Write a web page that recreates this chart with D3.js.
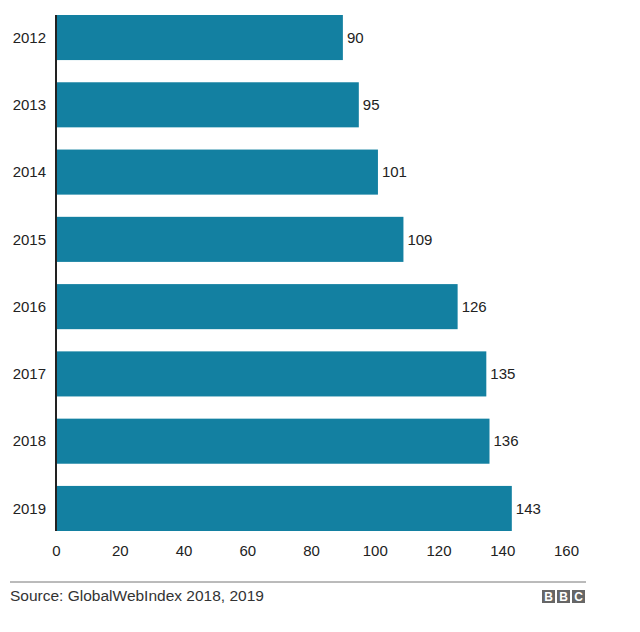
<!DOCTYPE html>
<html>
<head>
<meta charset="utf-8">
<script src="https://cdn.jsdelivr.net/npm/d3@7"></script>
<style>
  body { margin: 0; background: #fff; }
  text { font-family: "Liberation Sans", Arial, sans-serif; }
</style>
</head>
<body>
<script>
// data
let years = ["2012", "2013", "2014", "2015", "2016", "2017", "2018", "2019"]
let values = [90, 95, 101, 109, 126, 135, 136, 143]
let ticks = [0, 20, 40, 60, 80, 100, 120, 140, 160]
let source = "Source: GlobalWebIndex 2018, 2019"

let W = 640, H = 632
let mLeft = 56, mTop = 15, mBottom = 531

let svg = d3.select("body")
    .append("svg")
    .attr("width", W)
    .attr("height", H)

let x = d3.scaleLinear().domain([0, 160]).range([mLeft, 566])
let y = d3.scaleBand().domain(years).range([mTop, mBottom]).paddingInner(0.33).paddingOuter(0)

let data = years.map((d, i) => ({ year: d, v: values[i] }))

svg.selectAll("rect.bar")
    .data(data)
    .enter()
    .append("rect")
    .attr("class", "bar")
    .attr("x", x(0))
    .attr("y", d => y(d.year))
    .attr("width", d => x(d.v) - x(0))
    .attr("height", y.bandwidth())
    .attr("fill", "#1380a1")

svg.selectAll("text.val")
    .data(data)
    .enter()
    .append("text")
    .attr("class", "val")
    .attr("x", d => x(d.v) + 4)
    .attr("y", d => y(d.year) + y.bandwidth() / 2)
    .attr("dy", "0.35em")
    .attr("font-size", 15)
    .attr("fill", "#222")
    .text(d => d.v)

// year labels
svg.selectAll("text.yr")
    .data(years)
    .enter()
    .append("text")
    .attr("class", "yr")
    .attr("x", mLeft - 10)
    .attr("y", d => y(d) + y.bandwidth() / 2)
    .attr("dy", "0.35em")
    .attr("text-anchor", "end")
    .attr("font-size", 15)
    .attr("fill", "#222")
    .text(d => d)

// baseline
svg.append("line")
    .attr("x1", x(0)).attr("x2", x(0))
    .attr("y1", mTop).attr("y2", mBottom)
    .attr("stroke", "#222")
    .attr("stroke-width", 2)

// x axis
let xAxis = svg.append("g")
    .attr("transform", `translate(0, 545)`)
    .call(d3.axisBottom(x).tickValues(ticks).tickSize(0).tickPadding(0))
xAxis.select(".domain").remove()
xAxis.selectAll("text")
    .attr("font-size", 15)
    .attr("fill", "#222")
    .style("font-family", "Liberation Sans, Arial, sans-serif")

// footer
svg.append("line")
    .attr("x1", 10).attr("x2", 586)
    .attr("y1", 582).attr("y2", 582)
    .attr("stroke", "#777")
    .attr("stroke-width", 1)

svg.append("text")
    .attr("x", 10)
    .attr("y", 601)
    .attr("font-size", 15.5)
    .attr("fill", "#333")
    .text(source)

let logo = svg.append("g").attr("transform", "translate(542, 590)")
"BBC".split("").forEach((c, i) => {
    logo.append("rect")
        .attr("x", i * 15)
        .attr("width", 13)
        .attr("height", 13)
        .attr("fill", "#666")
    logo.append("text")
        .attr("x", i * 15 + 6.5)
        .attr("y", 11)
        .attr("text-anchor", "middle")
        .attr("font-size", 12)
        .attr("font-weight", "bold")
        .attr("fill", "#fff")
        .text(c)
})
</script>
</body>
</html>
